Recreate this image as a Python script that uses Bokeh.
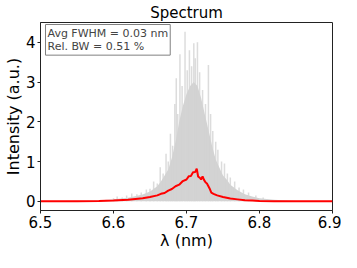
from bokeh.plotting import figure
from bokeh.models import Range1d, Label, FixedTicker
from bokeh.embed import file_html
from bokeh.resources import INLINE

# Intensities are in units of 1e14 (a.u.), wavelengths in nm

# tall single-shot spikes (grey lines)
spike_wl = [6.600, 6.605, 6.612, 6.618, 6.625, 6.632, 6.638, 6.645, 6.650, 6.655,
            6.660, 6.664, 6.668, 6.672, 6.675, 6.678, 6.681, 6.684, 6.686, 6.688,
            6.691, 6.694, 6.698, 6.701, 6.704, 6.707, 6.710, 6.712, 6.715, 6.718,
            6.722, 6.726, 6.730, 6.733, 6.736, 6.740, 6.743, 6.748, 6.752, 6.756,
            6.760, 6.766, 6.772, 6.778, 6.785, 6.795, 6.805]
spike_top = [0.08, 0.12, 0.10, 0.15, 0.20, 0.18, 0.22, 0.30, 0.32, 0.50,
             0.45, 0.86, 0.70, 1.20, 1.00, 1.70, 1.40, 2.45, 3.10, 2.20,
             3.70, 2.90, 4.27, 3.30, 3.80, 3.40, 3.98, 3.60, 4.00, 3.25,
             2.80, 2.45, 3.43, 2.20, 1.77, 1.50, 1.30, 1.00, 0.95, 0.70,
             0.60, 0.50, 0.35, 0.30, 0.22, 0.15, 0.10]

# dense grey core of all shots
core_wl = [6.50, 6.58, 6.60, 6.62, 6.64, 6.65, 6.66, 6.665, 6.67, 6.675, 6.68, 6.685,
           6.69, 6.695, 6.70, 6.705, 6.71, 6.715, 6.72, 6.725, 6.73, 6.735, 6.74,
           6.745, 6.75, 6.755, 6.76, 6.77, 6.78, 6.79, 6.80, 6.82, 6.85, 6.90]
core_int = [0.0, 0.02, 0.05, 0.09, 0.17, 0.25, 0.38, 0.50, 0.65, 0.80, 1.10, 1.50,
            2.00, 2.40, 2.70, 2.90, 3.00, 2.90, 2.60, 2.20, 1.80, 1.40, 1.05,
            0.85, 0.65, 0.55, 0.42, 0.28, 0.18, 0.12, 0.08, 0.04, 0.01, 0.0]

# average spectrum (red)
mean_wl = [6.50, 6.55, 6.58, 6.60, 6.62, 6.63, 6.64, 6.65, 6.66, 6.665, 6.67, 6.675,
           6.68, 6.685, 6.69, 6.695, 6.70, 6.703, 6.706, 6.709, 6.712, 6.714, 6.716,
           6.718, 6.720, 6.722, 6.724, 6.726, 6.728, 6.730, 6.732, 6.734, 6.737, 6.742,
           6.75, 6.76, 6.77, 6.78, 6.79, 6.80, 6.82, 6.85, 6.90]
mean_int = [0.0, 0.0, 0.01, 0.02, 0.04, 0.06, 0.08, 0.11, 0.15, 0.19, 0.21, 0.27,
            0.31, 0.38, 0.42, 0.51, 0.55, 0.63, 0.64, 0.73, 0.74, 0.82, 0.62,
            0.60, 0.55, 0.63, 0.54, 0.48, 0.45, 0.38, 0.31, 0.22, 0.19, 0.15,
            0.11, 0.07, 0.05, 0.03, 0.02, 0.01, 0.005, 0.0, 0.0]

x_ticks = [6.5, 6.6, 6.7, 6.8, 6.9]
y_ticks = [0, 1, 2, 3, 4]

FONT = "DejaVu Sans"

p = figure(width=341, height=252, output_backend="svg", toolbar_location=None,
           x_range=Range1d(6.5, 6.9), y_range=Range1d(-0.23, 4.5),
           title="Spectrum", min_border_right=9, min_border_left=0,
           min_border_top=0, min_border_bottom=0)

p.title.text_font = FONT
p.title.text_font_size = "15px"
p.title.text_font_style = "normal"
p.title.text_color = "black"
p.title.align = "center"
p.title.standoff = 2
p.title.offset = 0

p.varea(x=core_wl, y1=0, y2=core_int, fill_color="#d3d3d3", fill_alpha=1.0)
p.segment(x0=spike_wl, y0=[0] * len(spike_wl), x1=spike_wl, y1=spike_top,
          line_color="#d3d3d3", line_width=1.5, line_alpha=0.8)
p.line(x=mean_wl, y=mean_int, line_color="red", line_width=2)

p.xgrid.visible = False
p.ygrid.visible = False
p.outline_line_color = "#222222"
p.outline_line_width = 1

for ax in (p.xaxis[0], p.yaxis[0]):
    ax.major_label_text_font = FONT
    ax.major_label_text_font_size = "15px"
    ax.major_label_text_color = "black"
    ax.axis_label_text_font = FONT
    ax.axis_label_text_font_size = "16px"
    ax.axis_label_text_font_style = "normal"
    ax.axis_label_text_color = "black"
    ax.minor_tick_line_color = None
    ax.major_tick_out = 3
    ax.major_tick_in = 0
    ax.axis_line_color = "#222222"
    ax.major_tick_line_color = "#222222"
    ax.major_label_standoff = 2
    ax.axis_label_standoff = 0

p.xaxis.ticker = FixedTicker(ticks=x_ticks)
p.yaxis.ticker = FixedTicker(ticks=y_ticks)
p.xaxis.axis_label = "λ (nm)"
p.yaxis.axis_label = "Intensity (a.u.)"

p.add_layout(Label(x=6.5, y=4.5, text="1e14", text_font=FONT, text_font_size="7px",
                   text_baseline="bottom", text_align="left", y_offset=1))

p.add_layout(Label(x=6.5, y=4.5, x_offset=5, y_offset=-2,
                   text="Avg FWHM = 0.03 nm\nRel. BW = 0.51 %",
                   text_font=FONT, text_font_size="11px", text_baseline="top",
                   text_align="left", text_line_height=1.05,
                   background_fill_color="white", background_fill_alpha=1.0,
                   border_line_color="#808080", border_line_width=1, padding=2))

open("out.html", "w").write(file_html(p, INLINE))
